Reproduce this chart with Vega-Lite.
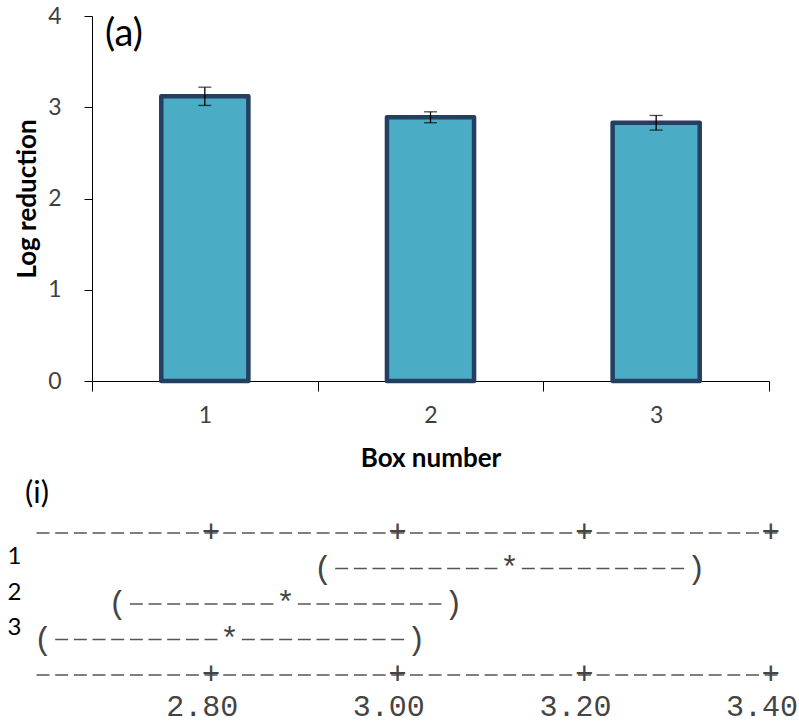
{
  "$schema": "https://vega.github.io/schema/vega-lite/v6.json",
  "background": "white",
  "padding": {"left": 7, "top": 5, "right": 5, "bottom": 0},
  "autosize": {"type": "pad"},
  "config": {"view": {"stroke": null}, "font": "Lato"},
  "datasets": {
    "bars": [
      {"box": "1", "mean": 3.12, "lo": 3.02, "hi": 3.22},
      {"box": "2", "mean": 2.89, "lo": 2.83, "hi": 2.95},
      {"box": "3", "mean": 2.83, "lo": 2.75, "hi": 2.91}
    ],
    "intervals": [
      {"row": 1, "lower": 2.92, "mean": 3.12, "upper": 3.32},
      {"row": 2, "lower": 2.70, "mean": 2.88, "upper": 3.06},
      {"row": 3, "lower": 2.62, "mean": 2.82, "upper": 3.02}
    ],
    "frame": [
      {"row": 0, "from": 2.62, "to": 3.40},
      {"row": 4, "from": 2.62, "to": 3.40}
    ],
    "ticks": [
      {"row": 0, "tick": 2.8}, {"row": 0, "tick": 3.0}, {"row": 0, "tick": 3.2}, {"row": 0, "tick": 3.4},
      {"row": 4, "tick": 2.8}, {"row": 4, "tick": 3.0}, {"row": 4, "tick": 3.2}, {"row": 4, "tick": 3.4}
    ]
  },
  "bounds": "flush",
  "spacing": 152,
  "vconcat": [
    {
      "width": 677,
      "height": 365,
      "title": {"text": "(a)", "anchor": "start", "frame": "group", "fontSize": 38, "fontWeight": "normal", "font": "Lato", "color": "#000000", "dx": 13, "dy": 49, "offset": 0, "baseline": "top"},
      "data": {"name": "bars"},
      "encoding": {
        "x": {
          "field": "box", "type": "ordinal",
          "scale": {"paddingInner": 0, "paddingOuter": 0},
          "axis": {"title": "Box number", "labelAngle": 0, "tickBand": "extent", "tickSize": 10, "domainColor": "#000000", "tickColor": "#000000", "labelFont": "Lato", "labelFontSize": 23, "labelColor": "#404040", "labelPadding": 13, "titleFont": "Lato", "titleFontSize": 26, "titleFontWeight": "bold", "titleColor": "#000000", "titlePadding": 18}
        }
      },
      "layer": [
        {
          "mark": {"type": "bar", "width": {"band": 0.386}, "fill": "#4BACC6", "stroke": "#243F60", "strokeWidth": 4.5, "strokeJoin": "round"},
          "encoding": {
            "y": {
              "field": "mean", "type": "quantitative", "title": "Log reduction",
              "scale": {"domain": [0, 4], "nice": false},
              "axis": {"values": [0, 1, 2, 3, 4], "format": "d", "grid": false, "tickSize": 8, "domainColor": "#000000", "tickColor": "#000000", "labelFont": "Lato", "labelFontSize": 23, "labelColor": "#404040", "labelPadding": 23, "titleFont": "Lato", "titleFontSize": 26, "titleFontWeight": "bold", "titleColor": "#000000", "titlePadding": 7}
            }
          }
        },
        {
          "mark": {"type": "errorbar", "ticks": {"size": 13, "color": "#000000", "thickness": 1.3}, "rule": {"color": "#000000", "strokeWidth": 1.3}},
          "encoding": {
            "y": {"field": "lo", "type": "quantitative", "title": "Log reduction"},
            "y2": {"field": "hi"}
          }
        }
      ]
    },
    {
      "width": 689,
      "height": 142,
      "title": {"text": "(i)", "anchor": "start", "frame": "group", "fontSize": 31, "fontWeight": "normal", "font": "Lato", "color": "#000000", "dx": -67, "dy": 34, "offset": 10, "baseline": "bottom"},
      "encoding": {
        "y": {
          "field": "row", "type": "quantitative",
          "scale": {"domain": [0, 4], "reverse": true, "nice": false, "zero": false},
          "axis": {"values": [1, 2, 3], "title": null, "domain": false, "ticks": false, "grid": false, "labelFont": "Lato", "labelFontSize": 24, "labelColor": "#000000", "labelPadding": 71, "labelOffset": -12}
        }
      },
      "layer": [
        {
          "data": {"name": "frame"},
          "mark": {"type": "rule", "strokeDash": [13, 5.67], "strokeWidth": 1.6, "color": "#555555", "xOffset": -6.5, "x2Offset": 6.5},
          "encoding": {
            "x": {
              "field": "from", "type": "quantitative", "title": null,
              "scale": {"domain": [2.6725, 3.4108], "nice": false, "zero": false},
              "axis": {"values": [2.8, 3.0, 3.2, 3.4], "format": ".2f", "domain": false, "ticks": false, "grid": false, "labelFont": "Liberation Mono", "labelFontSize": 30, "labelColor": "#444444", "labelOffset": -9.33, "labelPadding": 16, "labelFlush": false, "labelOverlap": false}
            },
            "x2": {"field": "to"}
          }
        },
        {
          "data": {"name": "ticks"},
          "mark": {"type": "text", "text": "+", "font": "Liberation Mono", "fontSize": 31, "color": "#444444", "baseline": "middle"},
          "encoding": {
            "x": {
              "field": "tick", "type": "quantitative", "title": null,
              "scale": {"domain": [2.6725, 3.4108], "nice": false, "zero": false},
              "axis": {"values": [2.8, 3.0, 3.2, 3.4], "format": ".2f", "domain": false, "ticks": false, "grid": false, "labelFont": "Liberation Mono", "labelFontSize": 30, "labelColor": "#444444", "labelOffset": -9.33, "labelPadding": 16, "labelFlush": false, "labelOverlap": false}
            }
          }
        },
        {
          "data": {"name": "intervals"},
          "mark": {"type": "rule", "strokeDash": [13, 5.67], "strokeWidth": 1.6, "color": "#555555", "xOffset": 12.17, "x2Offset": -12.17},
          "encoding": {
            "x": {
              "field": "lower", "type": "quantitative", "title": null,
              "scale": {"domain": [2.6725, 3.4108], "nice": false, "zero": false},
              "axis": {"values": [2.8, 3.0, 3.2, 3.4], "format": ".2f", "domain": false, "ticks": false, "grid": false, "labelFont": "Liberation Mono", "labelFontSize": 30, "labelColor": "#444444", "labelOffset": -9.33, "labelPadding": 16, "labelFlush": false, "labelOverlap": false}
            },
            "x2": {"field": "mean"}
          }
        },
        {
          "data": {"name": "intervals"},
          "mark": {"type": "rule", "strokeDash": [13, 5.67], "strokeWidth": 1.6, "color": "#555555", "xOffset": 12.17, "x2Offset": -12.17},
          "encoding": {
            "x": {
              "field": "mean", "type": "quantitative", "title": null,
              "scale": {"domain": [2.6725, 3.4108], "nice": false, "zero": false},
              "axis": {"values": [2.8, 3.0, 3.2, 3.4], "format": ".2f", "domain": false, "ticks": false, "grid": false, "labelFont": "Liberation Mono", "labelFontSize": 30, "labelColor": "#444444", "labelOffset": -9.33, "labelPadding": 16, "labelFlush": false, "labelOverlap": false}
            },
            "x2": {"field": "upper"}
          }
        },
        {
          "data": {"name": "intervals"},
          "mark": {"type": "text", "text": "(", "font": "Liberation Mono", "fontSize": 31, "color": "#444444", "baseline": "middle"},
          "encoding": {
            "x": {
              "field": "lower", "type": "quantitative", "title": null,
              "scale": {"domain": [2.6725, 3.4108], "nice": false, "zero": false},
              "axis": {"values": [2.8, 3.0, 3.2, 3.4], "format": ".2f", "domain": false, "ticks": false, "grid": false, "labelFont": "Liberation Mono", "labelFontSize": 30, "labelColor": "#444444", "labelOffset": -9.33, "labelPadding": 16, "labelFlush": false, "labelOverlap": false}
            }
          }
        },
        {
          "data": {"name": "intervals"},
          "mark": {"type": "text", "text": "*", "font": "Liberation Mono", "fontSize": 31, "color": "#444444", "baseline": "middle"},
          "encoding": {
            "x": {
              "field": "mean", "type": "quantitative", "title": null,
              "scale": {"domain": [2.6725, 3.4108], "nice": false, "zero": false},
              "axis": {"values": [2.8, 3.0, 3.2, 3.4], "format": ".2f", "domain": false, "ticks": false, "grid": false, "labelFont": "Liberation Mono", "labelFontSize": 30, "labelColor": "#444444", "labelOffset": -9.33, "labelPadding": 16, "labelFlush": false, "labelOverlap": false}
            }
          }
        },
        {
          "data": {"name": "intervals"},
          "mark": {"type": "text", "text": ")", "font": "Liberation Mono", "fontSize": 31, "color": "#444444", "baseline": "middle"},
          "encoding": {
            "x": {
              "field": "upper", "type": "quantitative", "title": null,
              "scale": {"domain": [2.6725, 3.4108], "nice": false, "zero": false},
              "axis": {"values": [2.8, 3.0, 3.2, 3.4], "format": ".2f", "domain": false, "ticks": false, "grid": false, "labelFont": "Liberation Mono", "labelFontSize": 30, "labelColor": "#444444", "labelOffset": -9.33, "labelPadding": 16, "labelFlush": false, "labelOverlap": false}
            }
          }
        }
      ]
    }
  ]
}
